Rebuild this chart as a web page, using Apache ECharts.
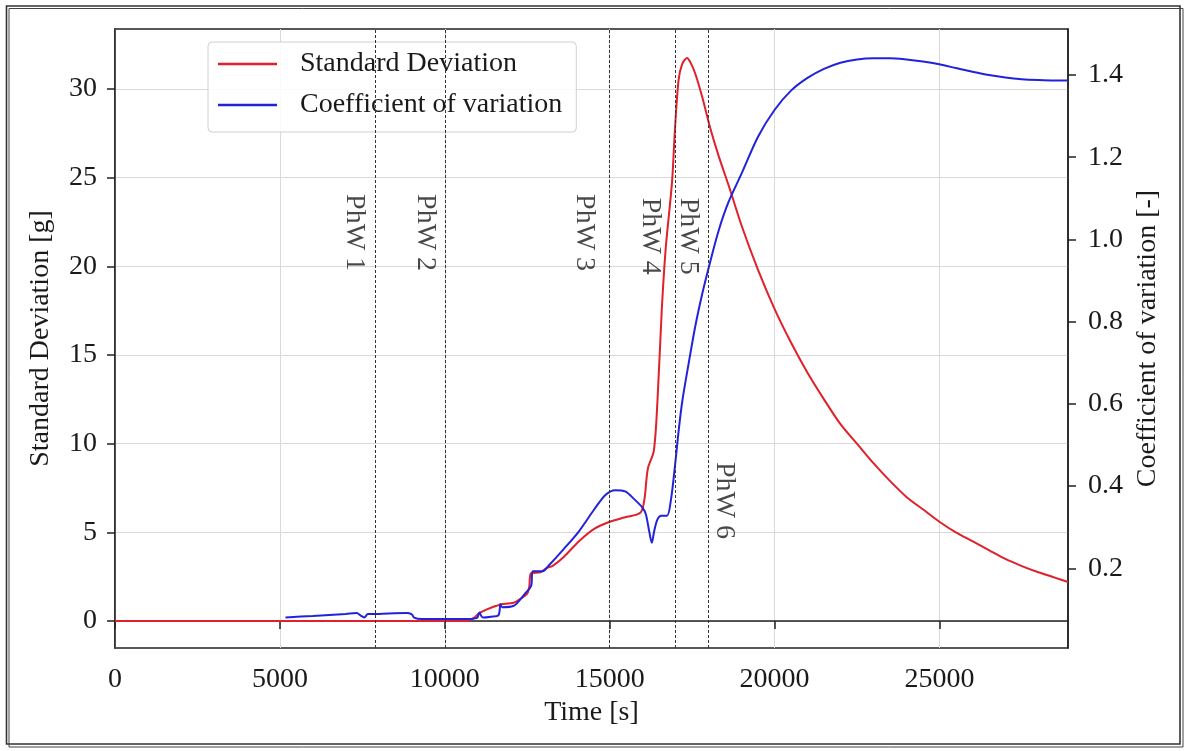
<!DOCTYPE html>
<html><head><meta charset="utf-8">
<script src="https://cdn.jsdelivr.net/npm/echarts@6/dist/echarts.min.js"></script>
<style>html,body{margin:0;padding:0;background:#fff}#c{width:1187px;height:751px}</style>
</head><body><div id="c"></div>
<script>
// ---- data ----
const sdTime  = [0, 10700, 10900, 11000, 11160, 11400, 11630, 11700, 12090, 12330, 12500, 12560, 12620, 12900, 13100, 13260, 13600, 14070, 14530, 15000, 15470, 15930, 16050, 16160, 16340, 16450, 16580, 16700, 16890, 16980, 17090, 17200, 17348, 17450, 17590, 17800, 18050, 18310, 18620, 19000, 19500, 20000, 20500, 21000, 21500, 22000, 22500, 23000, 23500, 24000, 24500, 25000, 25500, 26000, 26500, 27000, 27500, 28000, 28500, 28900];
const sdValue = [0, 0, 0.2, 0.38, 0.56, 0.75, 0.9, 0.95, 1.03, 1.3, 1.55, 1.9, 2.7, 2.75, 3.0, 3.1, 3.6, 4.5, 5.2, 5.6, 5.85, 6.1, 6.8, 8.6, 9.6, 12.4, 17.5, 21.0, 24.7, 27.7, 30.5, 31.4, 31.75, 31.5, 30.9, 29.6, 27.8, 26.2, 24.5, 22.3, 19.8, 17.6, 15.7, 14.0, 12.5, 11.1, 10.0, 8.9, 7.9, 7.0, 6.3, 5.6, 5.0, 4.5, 4.0, 3.5, 3.1, 2.75, 2.45, 2.2];

const cvTime  = [5170, 6000, 7000, 7330, 7450, 7560, 7670, 8000, 8840, 9000, 9070, 9300, 10000, 10700, 10900, 10990, 11050, 11100, 11160, 11400, 11630, 11690, 11740, 12090, 12300, 12440, 12620, 12670, 12970, 13140, 13600, 14070, 14530, 14880, 15170, 15470, 15760, 16000, 16100, 16200, 16280, 16350, 16450, 16570, 16740, 16860, 16980, 17100, 17210, 17400, 17600, 17800, 18000, 18300, 18600, 19000, 19500, 20000, 20500, 21000, 21500, 22000, 22500, 23000, 23500, 24000, 24500, 25000, 25500, 26000, 26500, 27000, 27500, 28000, 28500, 28900];
const cvValue = [0.0805, 0.084, 0.089, 0.091, 0.085, 0.0805, 0.0885, 0.089, 0.091, 0.088, 0.080, 0.0764, 0.0764, 0.0764, 0.078, 0.080, 0.0926, 0.085, 0.080, 0.082, 0.086, 0.1127, 0.105, 0.1087, 0.125, 0.139, 0.157, 0.193, 0.193, 0.2056, 0.246, 0.290, 0.343, 0.379, 0.390, 0.387, 0.367, 0.347, 0.331, 0.29, 0.262, 0.29, 0.319, 0.328, 0.328, 0.367, 0.448, 0.54, 0.61, 0.70, 0.79, 0.865, 0.93, 1.02, 1.09, 1.16, 1.25, 1.315, 1.362, 1.393, 1.415, 1.43, 1.438, 1.441, 1.441, 1.438, 1.433, 1.426, 1.417, 1.408, 1.400, 1.394, 1.39, 1.388, 1.387, 1.387];

const phaseLines  = [7900, 10000, 15000, 17000, 18000];
const phaseLabels = ['PhW 1', 'PhW 2', 'PhW 3', 'PhW 4', 'PhW 5', 'PhW 6'];
const phaseLabelX = [7250, 9420, 14240, 16230, 17400, 18470];
const phaseLabelY = [21.9, 21.9, 21.9, 21.7, 21.7, 6.8];

const xTicks  = [0, 5000, 10000, 15000, 20000, 25000];
const sdTicks = [0, 5, 10, 15, 20, 25, 30];
const cvTicks = [0.2, 0.4, 0.6, 0.8, 1.0, 1.2, 1.4];

// ---- chart ----
const FONT = 'Liberation Serif';
const TXT = '#1a1a1a';
const zip = (a, b) => a.map((v, i) => [v, b[i]]);

const chart = echarts.init(document.getElementById('c'), null, {renderer: 'canvas'});
chart.setOption({
  animation: false,
  backgroundColor: '#fff',
  textStyle: {fontFamily: FONT},
  grid: {left: 115, right: 119, top: 29, bottom: 103, show: true, borderColor: '#222', borderWidth: 1.5, backgroundColor: 'transparent'},
  legend: {
    left: 208, top: 42, orient: 'vertical',
    data: [{name: 'Standard Deviation', icon: 'rect'}, {name: 'Coefficient of variation', icon: 'rect'}],
    itemWidth: 59, itemHeight: 2.5, itemGap: 11,
    padding: [7, 14, 12, 10],
    borderColor: '#d0d0d0', borderWidth: 1, borderRadius: 4,
    backgroundColor: 'rgba(255,255,255,0.85)',
    textStyle: {fontFamily: FONT, fontSize: 28, color: TXT, lineHeight: 30, padding: [0, 0, 0, 18]}
  },
  xAxis: {
    type: 'value', min: 0, max: 28900,
    name: 'Time [s]', nameLocation: 'middle', nameGap: 51,
    nameTextStyle: {fontFamily: FONT, fontSize: 28, color: TXT},
    axisLine: {show: true, lineStyle: {color: '#222', width: 1.5}},
    axisTick: {show: true, inside: false, length: 8, customValues: xTicks, lineStyle: {color: '#222', width: 1.5}},
    axisLabel: {customValues: xTicks, fontFamily: FONT, fontSize: 28, color: TXT, margin: 18, formatter: v => String(v)},
    splitLine: {show: true, lineStyle: {color: '#d9d9d9', width: 1}}
  },
  yAxis: [{
    type: 'value', min: -1.52, max: 33.38, position: 'left',
    name: 'Standard Deviation [g]', nameLocation: 'middle', nameGap: 60, nameRotate: 90,
    nameTextStyle: {fontFamily: FONT, fontSize: 28, color: TXT},
    axisLine: {show: true, lineStyle: {color: '#222', width: 1.5}},
    axisTick: {show: true, inside: false, length: 8, customValues: sdTicks, lineStyle: {color: '#222', width: 1.5}},
    axisLabel: {customValues: sdTicks, fontFamily: FONT, fontSize: 28, color: TXT, margin: 18, formatter: v => String(v)},
    splitLine: {show: true, lineStyle: {color: '#d9d9d9', width: 1}}
  }, {
    type: 'value', min: 0.006, max: 1.512, position: 'right',
    name: 'Coefficient of variation [-]', nameLocation: 'middle', nameGap: 65, nameRotate: 90,
    nameTextStyle: {fontFamily: FONT, fontSize: 28, color: TXT},
    axisLine: {show: true, lineStyle: {color: '#222', width: 1.5}},
    axisTick: {show: true, inside: false, length: 8, customValues: cvTicks, lineStyle: {color: '#222', width: 1.5}},
    axisLabel: {customValues: cvTicks, fontFamily: FONT, fontSize: 28, color: TXT, margin: 20, formatter: v => v.toFixed(1)},
    splitLine: {show: false}
  }],
  series: [{
    name: 'Standard Deviation', type: 'line', xAxisIndex: 0, yAxisIndex: 0,
    data: zip(sdTime, sdValue), symbol: 'none', smooth: 0.3,
    color: '#e0202a', lineStyle: {color: '#e0202a', width: 2}, z: 3,
    markLine: {
      silent: true, symbol: 'none', animation: false,
      label: {show: false},
      lineStyle: {type: [3, 2], color: '#333', width: 1},
      data: phaseLines.map(v => ({xAxis: v}))
    }
  }, {
    name: 'Coefficient of variation', type: 'line', xAxisIndex: 0, yAxisIndex: 1,
    data: zip(cvTime, cvValue), symbol: 'none', smooth: 0.3,
    color: '#2222dd', lineStyle: {color: '#2222dd', width: 2}, z: 4
  }, {
    name: 'phases', type: 'scatter', xAxisIndex: 0, yAxisIndex: 0, silent: true,
    symbolSize: 1, itemStyle: {color: 'rgba(0,0,0,0)'},
    data: phaseLabels.map((t, i) => ({name: t, value: [phaseLabelX[i], phaseLabelY[i]]})),
    label: {show: true, position: 'inside', rotate: -90, formatter: p => p.name,
      fontFamily: FONT, fontSize: 28, color: TXT}
  }],
  graphic: [
    {type: 'rect', silent: true, shape: {x: 6.5, y: 6, width: 1173.5, height: 738}, style: {fill: 'none', stroke: '#333', lineWidth: 1.6}},
    {type: 'rect', silent: true, shape: {x: 9, y: 8.5, width: 1174, height: 738.5}, style: {fill: 'none', stroke: '#444', lineWidth: 1}}
  ]
});
</script>
</body></html>
